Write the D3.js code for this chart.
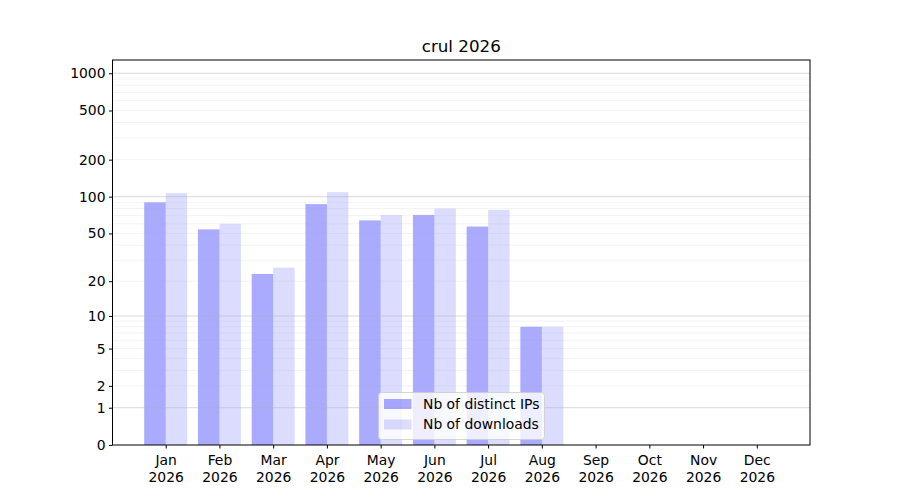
<!DOCTYPE html>
<html><head><meta charset="utf-8">
<script src="https://cdn.jsdelivr.net/npm/d3@7"></script>
<style>body{margin:0;background:#fff}svg{display:block}text{font-family:"DejaVu Sans",sans-serif}</style>
</head><body><div id="chart"></div>
<script>
const title = "crul 2026";
const months = ["Jan","Feb","Mar","Apr","May","Jun","Jul","Aug","Sep","Oct","Nov","Dec"];
const yearLabel = "2026";
const distinctIPs = [90,54,23,87,64,71,57,8,0,0,0,0];
const downloads = [107,60,26,109,71,80,78,8,0,0,0,0];
const yTicks = [0,1,2,5,10,20,50,100,200,500,1000];
const majorGrid = [1,10,100,1000];
const minorGrid = [2,3,4,5,6,7,8,9,20,30,40,50,60,70,80,90,200,300,400,500,600,700,800,900];
const seriesNames = ["Nb of distinct IPs","Nb of downloads"];

const W=900,H=500, L=112.5, R=810, T=60, B=445;
const svg=d3.select("#chart").append("svg").attr("width",W).attr("height",H);
const x=d3.scaleLinear().domain([-0.99,11.99]).range([L,R]);
const y=d3.scaleSymlog().constant(1).domain([0,1280]).range([B,T]);
const bw=x(0.4)-x(0);
const fs=13.9;

// bars
svg.append("g").selectAll("rect").data(distinctIPs).join("rect")
  .attr("x",(d,i)=>x(i-0.4)).attr("width",bw)
  .attr("y",d=>y(d)).attr("height",d=>B-y(d))
  .attr("fill","#0000ff").attr("fill-opacity",0.333);
svg.append("g").selectAll("rect").data(downloads).join("rect")
  .attr("x",(d,i)=>x(i)).attr("width",bw)
  .attr("y",d=>y(d)).attr("height",d=>B-y(d))
  .attr("fill","#0000ff").attr("fill-opacity",0.137);

// grid on top
svg.append("g").selectAll("line").data(minorGrid).join("line")
  .attr("x1",L).attr("x2",R).attr("y1",d=>y(d)).attr("y2",d=>y(d))
  .attr("stroke","#b0b0b0").attr("stroke-opacity",0.2).attr("stroke-width",0.8);
svg.append("g").selectAll("line").data(majorGrid).join("line")
  .attr("x1",L).attr("x2",R).attr("y1",d=>y(d)).attr("y2",d=>y(d))
  .attr("stroke","#b0b0b0").attr("stroke-opacity",0.6).attr("stroke-width",0.8);

// frame
svg.append("rect").attr("x",L).attr("y",T).attr("width",R-L).attr("height",B-T)
  .attr("fill","none").attr("stroke","#000").attr("stroke-width",1);

// y axis
const yAxis=d3.axisLeft(y).tickValues(yTicks).tickFormat(d3.format("d")).tickSize(3.5).tickPadding(3.5);
const gy=svg.append("g").attr("transform",`translate(${L},0)`).call(yAxis);
gy.select(".domain").remove();
gy.selectAll("text").attr("font-size",fs).attr("fill","#000").style("font-family","DejaVu Sans");
gy.selectAll("line").attr("stroke","#000");

// x axis
const xAxis=d3.axisBottom(x).tickValues(d3.range(12)).tickFormat(()=>"").tickSize(3.5);
const gx=svg.append("g").attr("transform",`translate(0,${B})`).call(xAxis);
gx.select(".domain").remove();
gx.selectAll("line").attr("stroke","#000");
gx.selectAll(".tick").each(function(d){
  const t=d3.select(this).append("text").attr("fill","#000").attr("font-size",fs)
    .attr("text-anchor","middle").style("font-family","DejaVu Sans");
  t.append("tspan").attr("x",0).attr("y",20).text(months[d]);
  t.append("tspan").attr("x",0).attr("y",36.5).text(yearLabel);
});

// title
svg.append("text").attr("x",(L+R)/2).attr("y",52).attr("text-anchor","middle")
  .attr("font-size",16.7).attr("fill","#000").text(title);

// legend
const lg=svg.append("g");
lg.append("rect").attr("x",378.5).attr("y",392.5).attr("width",166).attr("height",47).attr("rx",3)
  .attr("fill","#fff").attr("fill-opacity",0.8).attr("stroke","#cccccc").attr("stroke-opacity",0.8);
const cols=[0.333,0.137];
seriesNames.forEach((n,i)=>{
  const yy=399+i*20.5;
  lg.append("rect").attr("x",384).attr("y",yy).attr("width",27.5).attr("height",10)
    .attr("fill","#0000ff").attr("fill-opacity",cols[i]);
  lg.append("text").attr("x",423).attr("y",yy+9.5).attr("font-size",fs).attr("fill","#000").text(n);
});
</script></body></html>
